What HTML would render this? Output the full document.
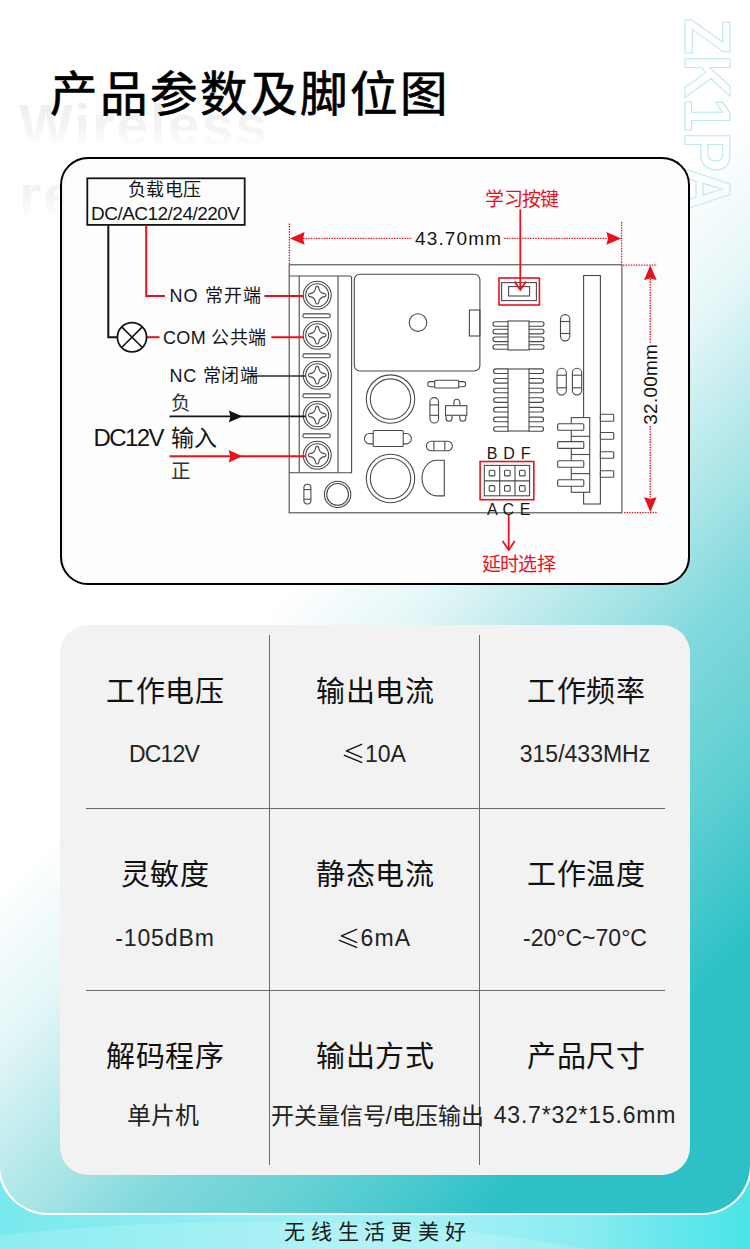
<!DOCTYPE html>
<html lang="zh-CN"><head><meta charset="utf-8">
<style>
*{margin:0;padding:0;box-sizing:border-box}
html,body{width:750px;height:1249px;overflow:hidden;background:#fff}
body{position:relative;font-family:"Liberation Sans",sans-serif;color:#111}
.abs{position:absolute}
#bottom{left:0;top:1150px;width:750px;height:99px;overflow:hidden;background:linear-gradient(90deg,#78e9ee 0%,#8eedf2 25%,#a2f0f5 45%,#a0f0f5 62%,#88ecf1 78%,#64e7ec 90%,#4ae4e9 100%)}
.wave{position:absolute;border-radius:50%}
#panel{left:-2px;top:-10px;width:754px;height:1225px;border-radius:0 0 50px 50px;border:2px solid #fff;border-top:none;
 background:linear-gradient(134deg,#ffffff 0%,#ffffff 45%,#f5fbfc 48%,#e3f6f7 53%,#c6edef 57.5%,#a6e4e6 62.7%,#82d9dc 68%,#6cd3d6 74%,#50cbcf 80%,#2ec2c8 86%,#2bc1c6 100%)}
#title{left:49.5px;top:64.8px;font-size:47.5px;font-weight:normal;-webkit-text-stroke:0.7px #000;letter-spacing:3.1px;line-height:60px;color:#000;white-space:nowrap}
.wm{font-weight:bold;font-size:57px;line-height:70px;letter-spacing:2px;white-space:nowrap;color:transparent;background:linear-gradient(180deg,#ebebeb 0%,#f4f4f4 55%,#fdfdfd 80%);-webkit-background-clip:text;background-clip:text}
#diag{left:60px;top:157px;width:630px;height:428px;border:2.5px solid #000;border-radius:28px;background:#fdfdfd;box-shadow:inset 3px 0 2px -1px rgba(0,0,0,0.04)}
#card{left:60px;top:625px;width:630px;height:550px;border-radius:28px;background:#f2f2f2}
.vl{width:1px;background:#6a6a6a}
.hl{height:1px;background:#6a6a6a}
.th{font-size:29px;line-height:36px;letter-spacing:0.9px;text-indent:0.9px;text-align:center;width:210px;color:#111;white-space:nowrap}
.tv{font-size:23px;line-height:30px;text-align:center;width:210px;color:#222;white-space:nowrap}
#foot{left:0;width:750px;top:1218px;text-align:center;font-size:21px;letter-spacing:5.7px;text-indent:5.7px;color:#1a1a1a;line-height:28px}
</style></head>
<body>
<div id="bottom" class="abs"><div class="wave" style="left:-200px;top:72px;width:900px;height:160px;background:rgba(255,255,255,0.16)"></div></div>
<div id="panel" class="abs"></div>
<div class="abs wm" style="left:19px;top:90px;">Wireless</div>
<div class="abs wm" style="left:19px;top:160px;">remote</div>
<svg class="abs" style="left:0;top:0" width="750" height="260" viewBox="0 0 750 260"><text x="0" y="0" font-family="Liberation Sans, sans-serif" font-weight="bold" font-size="65.5" fill="none" stroke="#bfe8ec" stroke-width="1.1" textLength="193" lengthAdjust="spacingAndGlyphs" transform="translate(684.8 18) rotate(90)">ZK1PA</text></svg>
<div id="title" class="abs">产品参数及脚位图</div>
<div id="diag" class="abs"></div>
<!--DIAG-->
<svg class="abs" style="left:0;top:0" width="750" height="600" viewBox="0 0 750 600" font-family="Liberation Sans, sans-serif">
<g fill="none" stroke="#4a4a4a" stroke-width="1.1">
<rect x="289.2" y="264.8" width="332.7" height="248" fill="#fff"/>
<path d="M289.2 276 H349.6 Q351.6 276 351.6 278 V472.8 H289.2"/>
<line x1="299.2" y1="276" x2="299.2" y2="472.8"/>
<line x1="338" y1="276" x2="338" y2="472.8"/>
<rect x="302.8" y="313.9" width="27.6" height="3.8" rx="1.9"/>
<rect x="302.8" y="353.9" width="27.6" height="3.8" rx="1.9"/>
<rect x="302.8" y="393.9" width="27.6" height="3.8" rx="1.9"/>
<rect x="302.8" y="433.9" width="27.6" height="3.8" rx="1.9"/>
<circle cx="317.2" cy="295.2" r="14.0"/>
<circle cx="317.2" cy="295.2" r="11.5"/>
<path d="M318.65 287.40 Q319.10 293.30 325.00 293.75 Q327.00 295.20 325.00 296.65 Q319.10 297.10 318.65 303.00 Q317.20 305.00 315.75 303.00 Q315.30 297.10 309.40 296.65 Q307.40 295.20 309.40 293.75 Q315.30 293.30 315.75 287.40 Q317.20 285.40 318.65 287.40Z"/>
<circle cx="317.2" cy="335.2" r="14.0"/>
<circle cx="317.2" cy="335.2" r="11.5"/>
<path d="M318.65 327.40 Q319.10 333.30 325.00 333.75 Q327.00 335.20 325.00 336.65 Q319.10 337.10 318.65 343.00 Q317.20 345.00 315.75 343.00 Q315.30 337.10 309.40 336.65 Q307.40 335.20 309.40 333.75 Q315.30 333.30 315.75 327.40 Q317.20 325.40 318.65 327.40Z"/>
<circle cx="317.2" cy="375.2" r="14.0"/>
<circle cx="317.2" cy="375.2" r="11.5"/>
<path d="M318.65 367.40 Q319.10 373.30 325.00 373.75 Q327.00 375.20 325.00 376.65 Q319.10 377.10 318.65 383.00 Q317.20 385.00 315.75 383.00 Q315.30 377.10 309.40 376.65 Q307.40 375.20 309.40 373.75 Q315.30 373.30 315.75 367.40 Q317.20 365.40 318.65 367.40Z"/>
<circle cx="317.2" cy="415.2" r="14.0"/>
<circle cx="317.2" cy="415.2" r="11.5"/>
<path d="M318.65 407.40 Q319.10 413.30 325.00 413.75 Q327.00 415.20 325.00 416.65 Q319.10 417.10 318.65 423.00 Q317.20 425.00 315.75 423.00 Q315.30 417.10 309.40 416.65 Q307.40 415.20 309.40 413.75 Q315.30 413.30 315.75 407.40 Q317.20 405.40 318.65 407.40Z"/>
<circle cx="317.2" cy="455.2" r="14.0"/>
<circle cx="317.2" cy="455.2" r="11.5"/>
<path d="M318.65 447.40 Q319.10 453.30 325.00 453.75 Q327.00 455.20 325.00 456.65 Q319.10 457.10 318.65 463.00 Q317.20 465.00 315.75 463.00 Q315.30 457.10 309.40 456.65 Q307.40 455.20 309.40 453.75 Q315.30 453.30 315.75 447.40 Q317.20 445.40 318.65 447.40Z"/>
<rect x="354.3" y="274.3" width="125.6" height="96.7" rx="5.5"/>
<circle cx="418" cy="322.6" r="8.8"/>
<rect x="469.4" y="310" width="10.5" height="26"/>
<circle cx="390.5" cy="399.1" r="24.2"/>
<circle cx="390.5" cy="399.1" r="20.2"/>
<circle cx="390.5" cy="478.5" r="24.2"/>
<circle cx="390.5" cy="478.5" r="20.2"/>
<rect x="427.8" y="381.6" width="37.8" height="5.2" rx="2.2" fill="#fff"/>
<rect x="434.7" y="380.3" width="24" height="7.7" rx="1" fill="#fff"/>
<rect x="429.9" y="397.6" width="8.6" height="25.4" rx="4.30" fill="#fff"/>
<line x1="429.9" y1="404.9" x2="438.5" y2="404.9"/>
<line x1="429.9" y1="415.3" x2="438.5" y2="415.3"/>
<path d="M453.9 405.7 V402.3 A3 3 0 0 1 459.9 402.3 V405.7" fill="#fff"/>
<path d="M446 415.3 V418.3 A3 3 0 0 0 452 418.3 V415.3" fill="#fff"/>
<path d="M459.8 415.3 V418.3 A3 3 0 0 0 465.8 418.3 V415.3" fill="#fff"/>
<rect x="445.5" y="405.7" width="21.3" height="9.6" fill="#fff"/>
<rect x="364.5" y="433.5" width="46.8" height="10.4" rx="5" fill="#fff"/>
<rect x="373.2" y="430.5" width="30" height="16" rx="1" fill="#fff"/>
<rect x="426.4" y="441.3" width="26" height="9.5" rx="4.75" fill="#fff"/>
<line x1="433.9" y1="441.3" x2="433.9" y2="450.8"/>
<line x1="444.8" y1="441.3" x2="444.8" y2="450.8"/>
<path d="M444.3 460.3 H437 A15 17.8 0 0 0 437 495.9 H444.3 Z"/>
<rect x="303.9" y="484.2" width="7" height="19.8" rx="3.50" fill="#fff"/>
<line x1="303.9" y1="489.6" x2="310.9" y2="489.6"/>
<line x1="303.9" y1="499.2" x2="310.9" y2="499.2"/>
<circle cx="337.6" cy="494.4" r="13.2"/>
<circle cx="337.6" cy="494.4" r="10.9"/>
<rect x="501.6" y="282.6" width="34.8" height="18"/>
<rect x="508.6" y="286.6" width="21" height="9.4"/>
<rect x="493" y="321.7" width="16" height="4.6" rx="2.3" fill="#fff"/>
<rect x="528" y="321.7" width="16" height="4.6" rx="2.3" fill="#fff"/>
<rect x="493" y="329.3" width="16" height="4.6" rx="2.3" fill="#fff"/>
<rect x="528" y="329.3" width="16" height="4.6" rx="2.3" fill="#fff"/>
<rect x="493" y="337.0" width="16" height="4.6" rx="2.3" fill="#fff"/>
<rect x="528" y="337.0" width="16" height="4.6" rx="2.3" fill="#fff"/>
<rect x="493" y="344.7" width="16" height="4.6" rx="2.3" fill="#fff"/>
<rect x="528" y="344.7" width="16" height="4.6" rx="2.3" fill="#fff"/>
<rect x="508" y="321" width="21" height="29" fill="#fff"/>
<rect x="493.6" y="368.9" width="15.4" height="4.6" rx="2.3" fill="#fff"/>
<rect x="528" y="368.9" width="15.6" height="4.6" rx="2.3" fill="#fff"/>
<rect x="493.6" y="378.5" width="15.4" height="4.6" rx="2.3" fill="#fff"/>
<rect x="528" y="378.5" width="15.6" height="4.6" rx="2.3" fill="#fff"/>
<rect x="493.6" y="388.2" width="15.4" height="4.6" rx="2.3" fill="#fff"/>
<rect x="528" y="388.2" width="15.6" height="4.6" rx="2.3" fill="#fff"/>
<rect x="493.6" y="397.8" width="15.4" height="4.6" rx="2.3" fill="#fff"/>
<rect x="528" y="397.8" width="15.6" height="4.6" rx="2.3" fill="#fff"/>
<rect x="493.6" y="407.4" width="15.4" height="4.6" rx="2.3" fill="#fff"/>
<rect x="528" y="407.4" width="15.6" height="4.6" rx="2.3" fill="#fff"/>
<rect x="493.6" y="417.1" width="15.4" height="4.6" rx="2.3" fill="#fff"/>
<rect x="528" y="417.1" width="15.6" height="4.6" rx="2.3" fill="#fff"/>
<rect x="493.6" y="426.7" width="15.4" height="4.6" rx="2.3" fill="#fff"/>
<rect x="528" y="426.7" width="15.6" height="4.6" rx="2.3" fill="#fff"/>
<rect x="508" y="369" width="21" height="62" fill="#fff"/>
<rect x="560.5" y="314.6" width="9.3" height="26.3" rx="4.65" fill="#fff"/>
<line x1="560.5" y1="321.5" x2="569.8" y2="321.5"/>
<line x1="560.5" y1="333.5" x2="569.8" y2="333.5"/>
<rect x="557" y="368.2" width="9.3" height="26.8" rx="4.65" fill="#fff"/>
<line x1="557" y1="375.2" x2="566.3" y2="375.2"/>
<line x1="557" y1="387.8" x2="566.3" y2="387.8"/>
<rect x="572.4" y="368.2" width="9.3" height="26.8" rx="4.65" fill="#fff"/>
<line x1="572.4" y1="375.2" x2="581.6999999999999" y2="375.2"/>
<line x1="572.4" y1="387.8" x2="581.6999999999999" y2="387.8"/>
<rect x="583.6" y="275.5" width="16.8" height="228.5" fill="#fff"/>
<rect x="571.3" y="417.6" width="18.4" height="74.7" fill="#fff"/>
<line x1="571.3" y1="436.3" x2="589.7" y2="436.3"/>
<line x1="571.3" y1="454.5" x2="589.7" y2="454.5"/>
<line x1="571.3" y1="473.6" x2="589.7" y2="473.6"/>
<rect x="557.7" y="423.7" width="26.1" height="6.5" rx="1" fill="#fff"/>
<rect x="557.7" y="441.6" width="26.1" height="6.8" rx="1" fill="#fff"/>
<rect x="557.7" y="460.7" width="26.1" height="6.6" rx="1" fill="#fff"/>
<rect x="557.7" y="479.7" width="26.1" height="6.5" rx="1" fill="#fff"/>
<rect x="600.4" y="414.3" width="13.3" height="7.0" rx="0.8" fill="#fff"/>
<rect x="600.4" y="432.5" width="13.3" height="6.8" rx="0.8" fill="#fff"/>
<rect x="600.4" y="451.7" width="13.3" height="6.5" rx="0.8" fill="#fff"/>
<rect x="600.4" y="470.8" width="13.3" height="6.5" rx="0.8" fill="#fff"/>
<rect x="484.3" y="465.4" width="45.3" height="30.4"/>
<line x1="499.7" y1="465.4" x2="499.7" y2="495.8"/>
<line x1="515" y1="465.4" x2="515" y2="495.8"/>
<line x1="484.3" y1="480.9" x2="529.6" y2="480.9"/>
<rect x="489.20" y="470.30" width="5.6" height="5.6" rx="1"/>
<rect x="489.20" y="485.60" width="5.6" height="5.6" rx="1"/>
<rect x="504.55" y="470.30" width="5.6" height="5.6" rx="1"/>
<rect x="504.55" y="485.60" width="5.6" height="5.6" rx="1"/>
<rect x="519.50" y="470.30" width="5.6" height="5.6" rx="1"/>
<rect x="519.50" y="485.60" width="5.6" height="5.6" rx="1"/>
</g>
<g fill="none" stroke="#e8121c" stroke-width="1.6">
<rect x="499" y="278" width="40.4" height="27"/>
<rect x="480.1" y="461.5" width="53.7" height="38.2"/>
</g>
<g fill="none" stroke-linecap="butt">
<rect x="87.3" y="178.3" width="157.4" height="46.6" stroke="#141414" stroke-width="1.8"/>
<path d="M108.3 225 V337.2 H117.5" stroke="#141414" stroke-width="2"/>
<path d="M146.2 225 V296 H165" stroke="#e8121c" stroke-width="2"/>
<path d="M146.8 337.2 H159.5" stroke="#e8121c" stroke-width="2"/>
<path d="M264.4 296 H303.6" stroke="#e8121c" stroke-width="2"/>
<path d="M271.4 337.2 H303.6" stroke="#e8121c" stroke-width="2"/>
<path d="M252 376 H305.6" stroke="#2a2a2a" stroke-width="1.3"/>
<path d="M169.5 416.4 H305.6" stroke="#141414" stroke-width="1.7"/>
<path d="M169.5 456.3 H305.6" stroke="#e8121c" stroke-width="2"/>
<circle cx="132" cy="337.2" r="14.6" stroke="#141414" stroke-width="1.8" fill="#fff"/>
<path d="M121.7 326.9 L142.3 347.5 M121.7 347.5 L142.3 326.9" stroke="#141414" stroke-width="1.6"/>
<path d="M289.4 223.5 V264.5 M621.6 222 V264.5" stroke="#e8121c" stroke-width="1.3" stroke-dasharray="1.4 1.2"/>
<path d="M303 238.4 H412 M504 238.4 H608" stroke="#e8121c" stroke-width="1.4" stroke-dasharray="1.4 1.2"/>
<path d="M623 265.2 H657 M624 512.6 H657" stroke="#e8121c" stroke-width="1.3" stroke-dasharray="1.4 1.2"/>
<path d="M650.3 279 V343 M650.3 426 V498" stroke="#e8121c" stroke-width="1.4" stroke-dasharray="1.4 1.2"/>
</g>
<path d="M289.8 238.4 L304.6 232.1 L303.0 238.4 L304.6 244.7Z" fill="#e8121c"/>
<path d="M621.2 238.4 L606.4 244.7 L608.0 238.4 L606.4 232.1Z" fill="#e8121c"/>
<path d="M650.3 265.3 L656.6 280.1 L650.3 278.5 L644.0 280.1Z" fill="#e8121c"/>
<path d="M650.3 512.0 L644.0 497.2 L650.3 498.8 L656.6 497.2Z" fill="#e8121c"/>
<path d="M242.5 416.4 L228.9 422.2 L230.5 416.4 L228.9 410.6Z" fill="#141414"/>
<path d="M242.5 456.3 L228.7 462.6 L230.3 456.3 L228.7 450.0Z" fill="#e8121c"/>
<g fill="none" stroke="#e8121c" stroke-width="1.8">
<path d="M520.3 209.3 V290"/>
<path d="M514.6 281.6 L520.3 290 L526 281.6"/>
<path d="M508.7 514.5 V550"/>
<path d="M502.6 541 L508.7 550 L514.8 541"/>
</g>
<text x="164.5" y="196" font-size="18" fill="#151515" text-anchor="middle" textLength="73.5" lengthAdjust="spacing">负载电压</text>
<text x="91" y="219.7" font-size="19" fill="#151515" text-anchor="start" textLength="149" lengthAdjust="spacing">DC/AC12/24/220V</text>
<text x="169.5" y="302.3" font-size="18" fill="#151515" text-anchor="start" textLength="91.5" lengthAdjust="spacing">NO 常开端</text>
<text x="163" y="343.5" font-size="18" fill="#151515" text-anchor="start" textLength="103" lengthAdjust="spacing">COM 公共端</text>
<text x="169.5" y="382.3" font-size="18" fill="#151515" text-anchor="start" textLength="88.5" lengthAdjust="spacing">NC 常闭端</text>
<text x="170.6" y="409.5" font-size="19.5" fill="#333" text-anchor="start">负</text>
<text x="93.5" y="446" font-size="24" fill="#151515" text-anchor="start" textLength="71" lengthAdjust="spacing">DC12V</text>
<text x="171" y="446" font-size="23" fill="#151515" text-anchor="start">输入</text>
<text x="170.6" y="477.5" font-size="19.5" fill="#333" text-anchor="start">正</text>
<text x="415" y="244.5" font-size="19" fill="#151515" text-anchor="start" textLength="86" lengthAdjust="spacing">43.70mm</text>
<text x="485.4" y="205.5" font-size="19" fill="#e8121c" text-anchor="start" textLength="73.8" lengthAdjust="spacing">学习按键</text>
<text x="481.7" y="571" font-size="19" fill="#e8121c" text-anchor="start" textLength="74.1" lengthAdjust="spacing">延时选择</text>
<text x="492" y="458.7" font-size="16" fill="#151515" text-anchor="middle">B</text>
<text x="509" y="458.7" font-size="16" fill="#151515" text-anchor="middle">D</text>
<text x="525.6" y="458.7" font-size="16" fill="#151515" text-anchor="middle">F</text>
<text x="492.3" y="514.7" font-size="16" fill="#151515" text-anchor="middle">A</text>
<text x="508.2" y="514.7" font-size="16" fill="#151515" text-anchor="middle">C</text>
<text x="525.2" y="514.7" font-size="16" fill="#151515" text-anchor="middle">E</text>
<text x="650.4" y="390.5" font-size="19" fill="#151515" text-anchor="middle" textLength="80.5" lengthAdjust="spacing" transform="rotate(-90 650.4 384.4)">32.00mm</text>
</svg>
<!--/DIAG-->

<div id="card" class="abs"></div>
<div class="abs vl" style="left:269px;top:635px;height:530px"></div>
<div class="abs vl" style="left:479px;top:635px;height:530px"></div>
<div class="abs hl" style="left:86px;top:808px;width:579px"></div>
<div class="abs hl" style="left:86px;top:990px;width:579px"></div>

<div class="abs th" style="left:60px;top:674px">工作电压</div>
<div class="abs th" style="left:270px;top:674px">输出电流</div>
<div class="abs th" style="left:481px;top:674px">工作频率</div>
<div class="abs tv" style="left:59px;top:739px;letter-spacing:-0.8px">DC12V</div>
<svg class="abs" style="left:343px;top:743px" width="20" height="22" viewBox="0 0 20 22"><path d="M18.6 1.4 L3.4 7.9 L18.6 14.4 M1.4 12.4 L18.6 19.4" fill="none" stroke="#151515" stroke-width="1.5" stroke-linecap="round" stroke-linejoin="round"/></svg>
<div class="abs tv" style="left:365px;top:739px;width:auto">10A</div>
<div class="abs tv" style="left:480px;top:739px">315/433MHz</div>

<div class="abs th" style="left:60px;top:857px">灵敏度</div>
<div class="abs th" style="left:270px;top:857px">静态电流</div>
<div class="abs th" style="left:481px;top:857px">工作温度</div>
<div class="abs tv" style="left:60px;top:923px;letter-spacing:0.9px">-105dBm</div>
<svg class="abs" style="left:338.4px;top:927.5px" width="20" height="22" viewBox="0 0 20 22"><path d="M18.6 1.4 L3.4 7.9 L18.6 14.4 M1.4 12.4 L18.6 19.4" fill="none" stroke="#151515" stroke-width="1.5" stroke-linecap="round" stroke-linejoin="round"/></svg>
<div class="abs tv" style="left:360.5px;top:923px;width:auto;letter-spacing:1.2px">6mA</div>
<div class="abs tv" style="left:480px;top:923px">-20°C~70°C</div>

<div class="abs th" style="left:60px;top:1039px">解码程序</div>
<div class="abs th" style="left:270px;top:1039px">输出方式</div>
<div class="abs th" style="left:481px;top:1039px">产品尺寸</div>
<div class="abs tv" style="left:58px;top:1100.5px;font-size:24px">单片机</div>
<div class="abs tv" style="left:270.5px;top:1100.7px">开关量信号/电压输出</div>
<div class="abs tv" style="left:480px;top:1100px;letter-spacing:0.8px">43.7*32*15.6mm</div>

<div id="foot" class="abs">无线生活更美好</div>
</body></html>
